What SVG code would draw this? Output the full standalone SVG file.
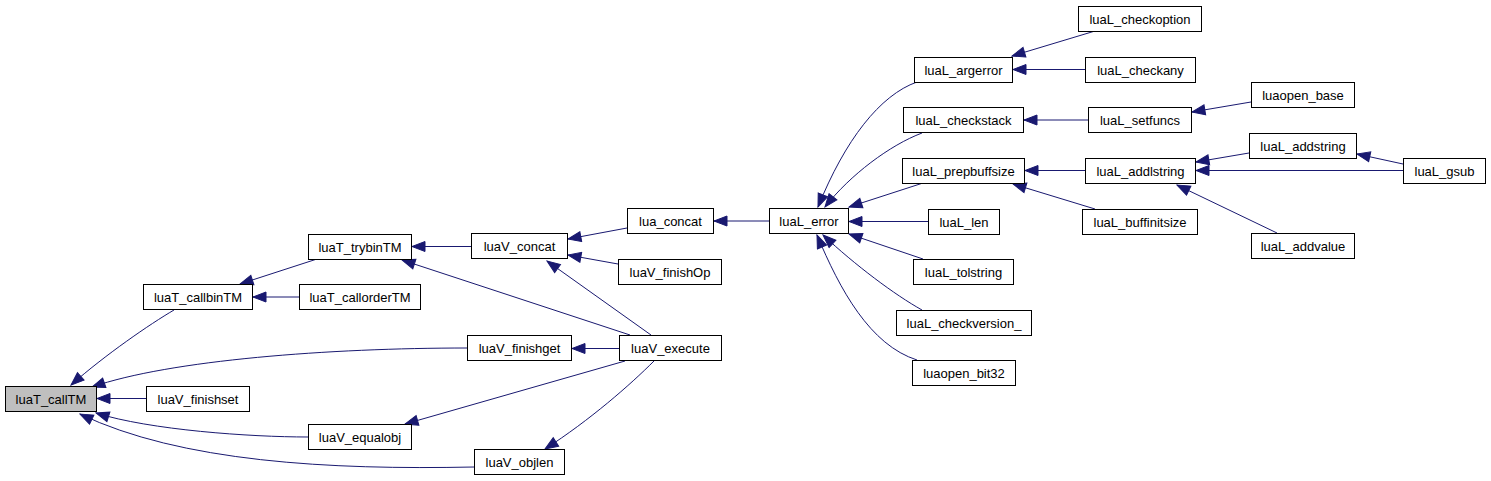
<svg xmlns="http://www.w3.org/2000/svg" width="1491" height="481" viewBox="0 0 1491 481">
<style>
.n rect{fill:#ffffff;stroke:#000000;stroke-width:1}
.n text{font-family:"Liberation Sans",Arial,sans-serif;font-size:13px;fill:#000000;text-anchor:middle}
#edges path{fill:none;stroke:#191970;stroke-width:1;marker-end:url(#arr)}
</style>
<defs>
<marker id="arr" markerUnits="userSpaceOnUse" markerWidth="15" markerHeight="12" refX="14" refY="6" orient="auto">
<path d="M1,1 L14,6 L1,11 Z" fill="#191970" stroke="#191970" stroke-width="1"/>
</marker>
</defs>
<rect width="1491" height="481" fill="#ffffff"/>
<g id="edges">
<path d="M146,398.5 L97,398.5"/>
<path d="M174,310 C150,324 105,355 71,385"/>
<path d="M467,348 C330,348 170,360 92,387"/>
<path d="M308,437 C250,437 150,430 96,413"/>
<path d="M474,467 C330,470 180,462 80,414"/>
<path d="M317,259 L240,284"/>
<path d="M299,297 L253,297"/>
<path d="M471,246.5 L412,246.5"/>
<path d="M630,335 L402,260"/>
<path d="M627,228 L568,239"/>
<path d="M618,264 L568,255"/>
<path d="M651,335 L547,261"/>
<path d="M619,348.5 L572,348.5"/>
<path d="M625,361 L405,424"/>
<path d="M654,361 C630,385 590,420 545,449"/>
<path d="M769,221 L714,221"/>
<path d="M917,82 C880,95 845,140 818,207"/>
<path d="M922,133 C890,145 850,175 825,207"/>
<path d="M923,183 L849,207"/>
<path d="M928,221.5 L849,221.5"/>
<path d="M923,259 L849,234"/>
<path d="M922,310 C895,295 855,265 823,235"/>
<path d="M917,360 C870,345 840,290 817,235"/>
<path d="M1095,31 L1012,56"/>
<path d="M1085,69.5 L1013,69.5"/>
<path d="M1088,120 L1024,120"/>
<path d="M1085,170.5 L1025,170.5"/>
<path d="M1095,209 L1013,184"/>
<path d="M1251,102 L1192,112"/>
<path d="M1249,153 L1196,162"/>
<path d="M1403,170.5 L1196,170.5"/>
<path d="M1403,164 L1357,154"/>
<path d="M1277,233 L1177,185"/>
</g>
<g id="luaT_callTM" class="n"><rect x="5.5" y="386.5" width="91" height="25" style="fill:#bfbfbf"/><text x="51" y="403.5">luaT_callTM</text></g>
<g id="luaT_callbinTM" class="n"><rect x="143.5" y="284.5" width="109" height="25"/><text x="198" y="301.5">luaT_callbinTM</text></g>
<g id="luaT_trybinTM" class="n"><rect x="308.5" y="234.5" width="103" height="25"/><text x="360" y="251.5">luaT_trybinTM</text></g>
<g id="luaT_callorderTM" class="n"><rect x="299.5" y="284.5" width="121" height="25"/><text x="360" y="301.5">luaT_callorderTM</text></g>
<g id="luaV_finishset" class="n"><rect x="146.5" y="386.5" width="103" height="25"/><text x="198" y="403.5">luaV_finishset</text></g>
<g id="luaV_equalobj" class="n"><rect x="308.5" y="424.5" width="103" height="25"/><text x="360" y="441.5">luaV_equalobj</text></g>
<g id="luaV_finishget" class="n"><rect x="467.5" y="335.5" width="104" height="25"/><text x="519.5" y="352.5">luaV_finishget</text></g>
<g id="luaV_objlen" class="n"><rect x="474.5" y="449.5" width="90" height="25"/><text x="519.5" y="466.5">luaV_objlen</text></g>
<g id="luaV_concat" class="n"><rect x="471.5" y="233.5" width="96" height="25"/><text x="519.5" y="250.5">luaV_concat</text></g>
<g id="lua_concat" class="n"><rect x="627.5" y="208.5" width="86" height="25"/><text x="670.5" y="225.5">lua_concat</text></g>
<g id="luaV_finishOp" class="n"><rect x="618.5" y="259.5" width="103" height="25"/><text x="670" y="276.5">luaV_finishOp</text></g>
<g id="luaV_execute" class="n"><rect x="619.5" y="335.5" width="102" height="25"/><text x="670.5" y="352.5">luaV_execute</text></g>
<g id="luaL_error" class="n"><rect x="769.5" y="208.5" width="79" height="25"/><text x="809" y="225.5">luaL_error</text></g>
<g id="luaL_checkoption" class="n"><rect x="1078.5" y="6.5" width="123" height="25"/><text x="1140" y="23.5">luaL_checkoption</text></g>
<g id="luaL_argerror" class="n"><rect x="914.5" y="57.5" width="98" height="25"/><text x="963.5" y="74.5">luaL_argerror</text></g>
<g id="luaL_checkany" class="n"><rect x="1085.5" y="57.5" width="110" height="25"/><text x="1140.5" y="74.5">luaL_checkany</text></g>
<g id="luaL_checkstack" class="n"><rect x="903.5" y="107.5" width="120" height="25"/><text x="963.5" y="124.5">luaL_checkstack</text></g>
<g id="luaL_setfuncs" class="n"><rect x="1088.5" y="107.5" width="103" height="25"/><text x="1140" y="124.5">luaL_setfuncs</text></g>
<g id="luaL_prepbuffsize" class="n"><rect x="902.5" y="158.5" width="122" height="25"/><text x="963.5" y="175.5">luaL_prepbuffsize</text></g>
<g id="luaL_addlstring" class="n"><rect x="1085.5" y="158.5" width="110" height="25"/><text x="1140.5" y="175.5">luaL_addlstring</text></g>
<g id="luaL_len" class="n"><rect x="928.5" y="209.5" width="71" height="25"/><text x="964" y="226.5">luaL_len</text></g>
<g id="luaL_buffinitsize" class="n"><rect x="1082.5" y="209.5" width="115" height="25"/><text x="1140" y="226.5">luaL_buffinitsize</text></g>
<g id="luaL_tolstring" class="n"><rect x="913.5" y="259.5" width="100" height="25"/><text x="963.5" y="276.5">luaL_tolstring</text></g>
<g id="luaL_checkversion_" class="n"><rect x="896.5" y="310.5" width="135" height="25"/><text x="964" y="327.5">luaL_checkversion_</text></g>
<g id="luaopen_bit32" class="n"><rect x="912.5" y="360.5" width="103" height="25"/><text x="964" y="377.5">luaopen_bit32</text></g>
<g id="luaopen_base" class="n"><rect x="1251.5" y="82.5" width="103" height="25"/><text x="1303" y="99.5">luaopen_base</text></g>
<g id="luaL_addstring" class="n"><rect x="1249.5" y="133.5" width="107" height="25"/><text x="1303" y="150.5">luaL_addstring</text></g>
<g id="luaL_gsub" class="n"><rect x="1403.5" y="158.5" width="82" height="25"/><text x="1444.5" y="175.5">luaL_gsub</text></g>
<g id="luaL_addvalue" class="n"><rect x="1251.5" y="233.5" width="103" height="25"/><text x="1303" y="250.5">luaL_addvalue</text></g>
</svg>
